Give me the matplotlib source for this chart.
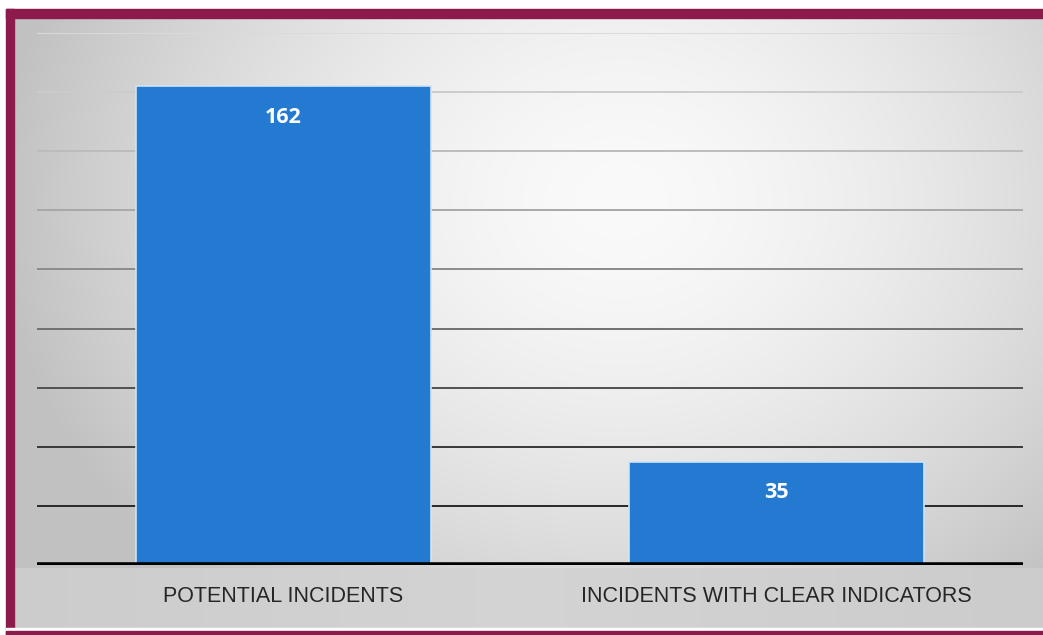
import numpy as np
import matplotlib.pyplot as plt
from matplotlib.patches import Rectangle

categories = ['POTENTIAL INCIDENTS', 'INCIDENTS WITH CLEAR INDICATORS']
values = [162, 35]
grid_values = [20, 40, 60, 80, 100, 120, 140, 160, 180]

W, H = 1043, 635
fig = plt.figure(figsize=(W / 100, H / 100), dpi=100)

# background gradient (light centre, grey edges)
bg = fig.add_axes([0, 0, 1, 1])
yy, xx = np.mgrid[0:H, 0:W]
d = np.sqrt(((xx - 620) / 620.0) ** 2 + ((yy - 200) / 520.0) ** 2)
shade = np.clip(0.98 - 0.22 * d ** 1.6, 0.76, 0.98)
band = yy > 567
shade[band] = 0.83 - 0.03 * np.abs((xx[band] - 520) / 520.0)
img = np.dstack([shade, shade, shade])
bg.imshow(img, extent=[0, W, H, 0], aspect='auto')
bg.set_xlim(0, W)
bg.set_ylim(H, 0)
bg.axis('off')
maroon = '#8c1a4b'
bg.add_patch(Rectangle((0, 0), W, 9, color='white'))
bg.add_patch(Rectangle((0, 0), 6, H, color='white'))
bg.add_patch(Rectangle((6, 9), W, 8.5, color=maroon))
bg.add_patch(Rectangle((6, 9), 8, H, color=maroon))
bg.add_patch(Rectangle((6, 628), W, 2.5, color='white'))
bg.add_patch(Rectangle((6, 630.5), W, 5, color=maroon))

ax = fig.add_axes([37 / W, (H - 565) / H, (1023 - 37) / W, (565 - 33) / H])
ax.patch.set_alpha(0)
x = np.arange(len(categories))

grid_colors = ['#dadada', '#cccccc', '#bcbcbc', '#a8a8a8', '#8c8c8c',
               '#707070', '#505050', '#383838', '#282828'][::-1]
for v, c in zip(grid_values, grid_colors):
    ax.axhline(v, color=c, lw=1.4, zorder=1)

bars = ax.bar(x, values, width=0.6, color='#2479d1', edgecolor='#cfe3f7',
              linewidth=1.2, zorder=2)
for b, v in zip(bars, values):
    ax.text(b.get_x() + b.get_width() / 2, v - 10.5, str(v), ha='center',
            va='center', color='white', fontsize=15.5, fontweight='bold',
            family='Open Sans', zorder=3)

ax.axhline(0, color='black', lw=4, zorder=4)
ax.set_xlim(-0.5, 1.5)
ax.set_ylim(0, 180)
ax.set_xticks(x)
ax.set_xticklabels(categories, fontsize=15.5, color='#262626',
                   family='Liberation Sans')
ax.tick_params(axis='x', length=0, pad=15)
ax.set_yticks([])
for s in ax.spines.values():
    s.set_visible(False)

fig.savefig('out.png', dpi=100)
